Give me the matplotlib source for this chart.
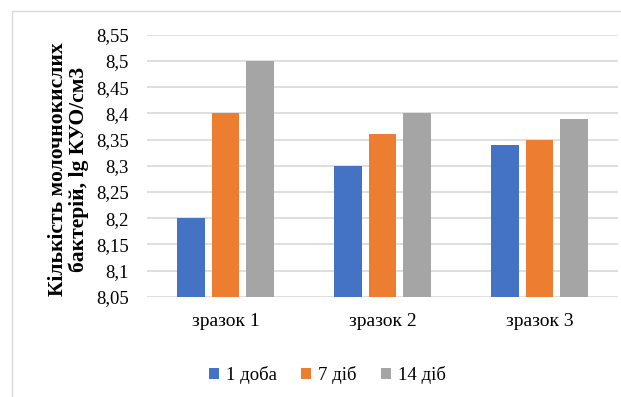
import numpy as np
import matplotlib
matplotlib.use('Agg')
import matplotlib.pyplot as plt
from matplotlib.patches import Rectangle
from matplotlib.font_manager import FontProperties

# data
categories = ['зразок 1', 'зразок 2', 'зразок 3']
series_names = ['1 доба', '7 діб', '14 діб']
day1 = [8.20, 8.30, 8.34]
day7 = [8.40, 8.36, 8.35]
day14 = [8.50, 8.40, 8.39]
colors = ['#4472C4', '#ED7D31', '#A5A5A5']

FAM = 'Liberation Serif'
plt.rcParams['font.family'] = [FAM]

fig = plt.figure(figsize=(6.21, 3.97), dpi=100)
ax = fig.add_axes([147/621, 1-296.7/397, (618-147)/621, (296.7-34.7)/397])

# outer chart border (runs off the image to the right and bottom)
fig.patches.append(Rectangle((12/621, -0.1), 1.2, 1-11/397+0.1, transform=fig.transFigure,
                             fill=False, edgecolor='#D9D9D9', lw=1))

x = np.arange(len(categories))
w = 0.178
step = 0.221
for i, (vals, name) in enumerate(zip([day1, day7, day14], series_names)):
    ax.bar(x + (i-1)*step, np.array(vals) - 8.05, width=w, bottom=8.05,
           color=colors[i], label=name, zorder=3)

ax.set_xlim(-0.5, 2.5)
ax.set_ylim(8.05, 8.55)
yt = np.arange(8.05, 8.5501, 0.05)
ax.set_yticks(yt)
ax.set_yticklabels([('%.2f' % v).rstrip('0').replace('.', ',') for v in yt],
                   fontfamily=FAM, fontsize=13.5)
ax.set_xticks(x)
ax.set_xticklabels(categories, fontfamily=FAM, fontsize=14)
ax.tick_params(axis='both', length=0)
ax.tick_params(axis='y', pad=13)
ax.tick_params(axis='x', pad=12)
ax.grid(axis='y', color='#D9D9D9', lw=1.2, zorder=0)
for s in ax.spines.values():
    s.set_visible(False)

ax.set_ylabel('Кількість молочнокислих\nбактерій, lg КУО/см3', fontsize=15.5,
              fontfamily=FAM, fontweight='bold', linespacing=1.0)
ax.yaxis.set_label_coords((89-147)/471, 0.485)

fig.legend(loc='center', bbox_to_anchor=(327/621, 1-375/397), ncol=3, frameon=False,
           prop=FontProperties(family=FAM, size=13.5), handlelength=0.55, handleheight=0.55,
           handletextpad=0.35, columnspacing=1.3)

fig.savefig('out.png', dpi=100)
